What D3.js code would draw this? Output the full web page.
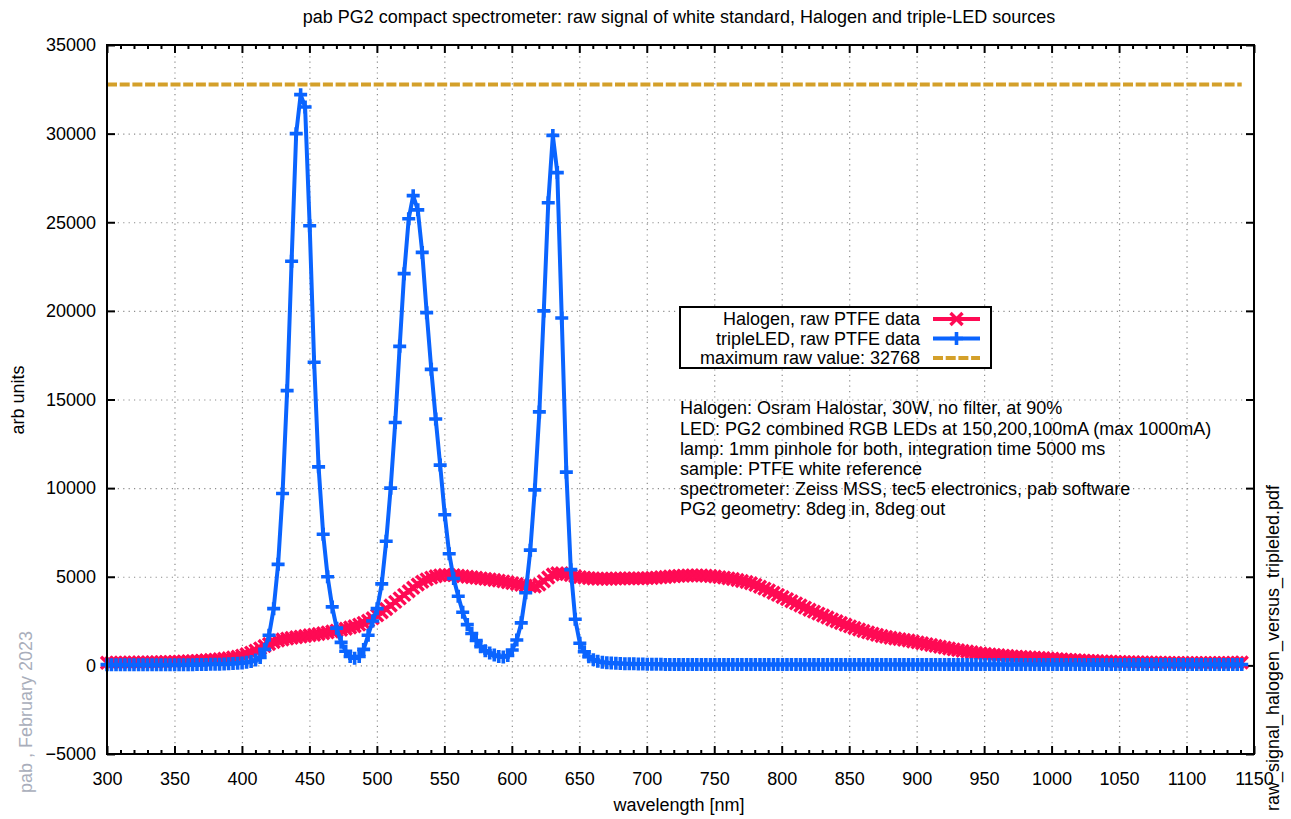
<!DOCTYPE html>
<html>
<head>
<meta charset="utf-8">
<script src="https://cdn.jsdelivr.net/npm/d3@7"></script>
<style>
  html, body { margin: 0; padding: 0; background: #fff; }
  svg { display: block; }
  text { font-family: "Liberation Sans", Arial, sans-serif; }
</style>
</head>
<body>
<svg id="chart" width="1291" height="819"></svg>
<script>
// Detector pixel wavelengths [nm]
const wavelength = [
  300.0,303.3,306.7,310.0,313.3,316.7,320.0,323.4,326.7,330.0,
  333.4,336.7,340.0,343.4,346.7,350.1,353.4,356.7,360.1,363.4,
  366.7,370.1,373.4,376.8,380.1,383.4,386.8,390.1,393.4,396.8,
  400.1,403.4,406.8,410.1,413.5,416.8,420.1,423.5,426.8,430.1,
  433.5,436.8,440.2,443.5,446.8,450.2,453.5,456.8,460.2,463.5,
  466.9,470.2,473.5,476.9,480.2,483.5,486.9,490.2,493.5,496.9,
  500.2,503.6,506.9,510.2,513.6,516.9,520.2,523.6,526.9,530.3,
  533.6,536.9,540.3,543.6,546.9,550.3,553.6,556.9,560.3,563.6,
  567.0,570.3,573.6,577.0,580.3,583.6,587.0,590.3,593.7,597.0,
  600.3,603.7,607.0,610.3,613.7,617.0,620.4,623.7,627.0,630.4,
  633.7,637.0,640.4,643.7,647.0,650.4,653.7,657.1,660.4,663.7,
  667.1,670.4,673.7,677.1,680.4,683.8,687.1,690.4,693.8,697.1,
  700.4,703.8,707.1,710.5,713.8,717.1,720.5,723.8,727.1,730.5,
  733.8,737.1,740.5,743.8,747.2,750.5,753.8,757.2,760.5,763.8,
  767.2,770.5,773.9,777.2,780.5,783.9,787.2,790.5,793.9,797.2,
  800.6,803.9,807.2,810.6,813.9,817.2,820.6,823.9,827.2,830.6,
  833.9,837.3,840.6,843.9,847.3,850.6,853.9,857.3,860.6,864.0,
  867.3,870.6,874.0,877.3,880.6,884.0,887.3,890.6,894.0,897.3,
  900.7,904.0,907.3,910.7,914.0,917.3,920.7,924.0,927.4,930.7,
  934.0,937.4,940.7,944.0,947.4,950.7,954.1,957.4,960.7,964.1,
  967.4,970.7,974.1,977.4,980.7,984.1,987.4,990.8,994.1,997.4,
  1000.8,1004.1,1007.4,1010.8,1014.1,1017.5,1020.8,1024.1,1027.5,1030.8,
  1034.1,1037.5,1040.8,1044.2,1047.5,1050.8,1054.2,1057.5,1060.8,1064.2,
  1067.5,1070.8,1074.2,1077.5,1080.9,1084.2,1087.5,1090.9,1094.2,1097.5,
  1100.9,1104.2,1107.6,1110.9,1114.2,1117.6,1120.9,1124.2,1127.6,1130.9,
  1134.3,1137.6,1140.9
];

// Halogen lamp, raw counts on PTFE
const halogen = [
  150,150,150,155,155,160,160,165,165,170,
  175,180,185,190,195,200,210,220,230,240,
  255,270,285,300,320,345,370,400,440,490,
  550,630,720,830,960,1090,1210,1320,1400,1460,
  1510,1550,1590,1620,1660,1700,1730,1770,1810,1860,
  1910,1960,2010,2070,2140,2210,2300,2400,2520,2660,
  2820,3000,3180,3380,3580,3780,3980,4180,4380,4560,
  4720,4850,4950,5030,5080,5100,5100,5090,5060,5030,
  5000,4970,4940,4910,4880,4850,4820,4780,4740,4690,
  4640,4590,4540,4500,4460,4450,4560,4750,4960,5130,
  5200,5200,5150,5090,5030,4980,4950,4920,4900,4890,
  4890,4890,4890,4900,4900,4910,4910,4910,4910,4910,
  4920,4930,4950,4970,4990,5010,5030,5050,5060,5070,
  5080,5080,5070,5060,5040,5010,4980,4950,4910,4870,
  4820,4760,4700,4630,4540,4440,4330,4220,4100,3980,
  3860,3740,3620,3500,3380,3260,3140,3030,2920,2810,
  2700,2590,2490,2390,2290,2200,2110,2020,1940,1860,
  1790,1720,1660,1610,1560,1520,1480,1440,1400,1350,
  1300,1250,1200,1150,1100,1050,1000,950,900,860,
  820,780,740,700,670,640,610,590,570,550,
  530,510,490,475,460,445,430,415,400,385,
  370,355,340,325,310,295,280,268,256,245,
  234,224,215,206,198,190,184,178,172,167,
  162,158,154,150,147,144,141,139,137,135,
  134,133,132,132,132,133,134,136,138,141,
  145,150,160
];

// Triple LED (RGB), raw counts on PTFE
const tripleLED = [
  40,35,30,30,30,30,30,30,30,30,
  30,30,30,30,30,35,35,35,40,40,
  45,50,55,60,65,70,80,90,100,120,
  140,170,220,300,450,900,1700,3200,5700,9700,
  15500,22800,30000,32200,31500,24800,17100,11200,7400,5000,
  3300,2100,1300,800,500,400,500,900,1700,2500,
  3200,4600,7000,10000,13700,18000,22100,25200,26500,25700,
  23300,19900,16700,13900,11300,8500,6300,4900,3900,3000,
  2300,1800,1400,1050,820,700,580,500,470,560,
  870,1430,2400,4100,6500,9900,14300,20000,26100,29900,
  27800,19600,10900,5400,2600,1250,770,490,320,230,
  180,150,130,115,105,95,90,85,80,75,
  70,66,62,58,55,52,50,48,48,48,
  48,48,48,48,48,48,48,48,48,48,
  48,48,48,48,48,48,48,48,48,48,
  48,48,48,48,48,48,48,48,48,48,
  48,48,48,48,48,48,48,48,48,48,
  48,48,48,48,48,48,48,48,48,48,
  48,48,48,48,48,48,48,48,48,48,
  48,48,48,48,48,48,48,48,48,48,
  48,48,48,48,48,48,48,48,48,48,
  48,48,48,48,48,48,48,48,48,48,
  48,48,48,48,48,48,48,48,48,48,
  48,48,48,48,48,48,48,48,48,48,
  48,48,48,48,48,48,48,48,48,48,
  48,48,48
];

const maxRaw = 32768;

const xTicks = [300,350,400,450,500,550,600,650,700,750,800,850,900,950,1000,1050,1100,1150];
const xMinorTicks = d3.range(300, 1151, 10).filter(v => v % 50 !== 0);
const yTicks = [-5000,0,5000,10000,15000,20000,25000,30000,35000];

const legendLabels = ["Halogen, raw PTFE data", "tripleLED, raw PTFE data", "maximum raw value: 32768"];
const notes = [
  "Halogen: Osram Halostar, 30W, no filter, at 90%",
  "LED: PG2 combined RGB LEDs at 150,200,100mA (max 1000mA)",
  "lamp: 1mm pinhole for both, integration time 5000 ms",
  "sample: PTFE white reference",
  "spectrometer: Zeiss MSS, tec5 electronics, pab software",
  "PG2 geometry: 8deg in, 8deg out"
];

const COL_HAL = "#ff0a54";
const COL_LED = "#0a64ff";
const COL_MAX = "#d4a02a";
const FS = 18;

const svg = d3.select("#chart");
const L = 107, R = 1254, T = 45, B = 754;
const x = d3.scaleLinear().domain([300, 1150]).range([L, R]);
const y = d3.scaleLinear().domain([-5000, 35000]).range([B, T]);

// grid
const gridX = svg.append("g").attr("transform", `translate(0,${B})`)
  .call(d3.axisBottom(x).tickValues(xTicks.slice(1, -1)).tickSize(-(B - T)).tickFormat(""));
const gridY = svg.append("g").attr("transform", `translate(${L},0)`)
  .call(d3.axisLeft(y).tickValues(yTicks.slice(1, -1)).tickSize(-(R - L)).tickFormat(""));
[gridX, gridY].forEach(g => {
  g.select(".domain").remove();
  g.selectAll("line").attr("stroke", "#8c8c8c").attr("stroke-width", 1.2).attr("stroke-dasharray", "1.2,4.2");
});

// ticks
function styleAxis(g) {
  g.select(".domain").remove();
  g.selectAll("line").attr("stroke", "#000").attr("stroke-width", 2);
  g.selectAll("text").attr("fill", "#000").attr("font-size", FS).attr("font-family", "Liberation Sans, Arial, sans-serif");
}
svg.append("g").attr("transform", `translate(0,${B})`)
  .call(d3.axisBottom(x).tickValues(xTicks).tickSize(-8).tickPadding(18).tickFormat(d3.format("d")))
  .call(styleAxis);
svg.append("g").attr("transform", `translate(0,${B})`)
  .call(d3.axisBottom(x).tickValues(xMinorTicks).tickSize(-4).tickFormat(""))
  .call(styleAxis);
svg.append("g").attr("transform", `translate(0,${T})`)
  .call(d3.axisTop(x).tickValues(xTicks).tickSize(-8).tickFormat(""))
  .call(styleAxis);
svg.append("g").attr("transform", `translate(0,${T})`)
  .call(d3.axisTop(x).tickValues(xMinorTicks).tickSize(-4).tickFormat(""))
  .call(styleAxis);
svg.append("g").attr("transform", `translate(${L},0)`)
  .call(d3.axisLeft(y).tickValues(yTicks).tickSize(-8).tickPadding(11).tickFormat(d3.format("d")))
  .call(styleAxis);
svg.append("g").attr("transform", `translate(${R},0)`)
  .call(d3.axisRight(y).tickValues(yTicks).tickSize(-8).tickFormat(""))
  .call(styleAxis);

// series
const plotArea = svg.append("g");
const line = d3.line().x((d, i) => x(wavelength[i])).y(d => y(d));
const crossPath = s => `M${-s},${-s}L${s},${s}M${-s},${s}L${s},${-s}`;
const plusPath = s => `M${-s},0H${s}M0,${-s}V${s}`;

function drawSeries(values, color, markerPath, mw) {
  const g = plotArea.append("g");
  g.append("path").datum(values).attr("d", line)
    .attr("fill", "none").attr("stroke", color).attr("stroke-width", 4).attr("stroke-linejoin", "round");
  g.selectAll("path.m").data(values).join("path").attr("class", "m")
    .attr("transform", (d, i) => `translate(${x(wavelength[i])},${y(d)})`)
    .attr("d", markerPath).attr("fill", "none").attr("stroke", color).attr("stroke-width", mw);
}
drawSeries(halogen, COL_HAL, crossPath(6), 3.4);
drawSeries(tripleLED, COL_LED, plusPath(6.5), 3.6);

plotArea.append("line")
  .attr("x1", x(wavelength[0])).attr("x2", x(wavelength[wavelength.length - 1]))
  .attr("y1", y(maxRaw)).attr("y2", y(maxRaw))
  .attr("stroke", COL_MAX).attr("stroke-width", 4).attr("stroke-dasharray", "10,2.7");

// frame
svg.append("rect").attr("x", L).attr("y", T).attr("width", R - L).attr("height", B - T)
  .attr("fill", "none").attr("stroke", "#000").attr("stroke-width", 2);

// legend
const lg = svg.append("g");
lg.append("rect").attr("x", 680).attr("y", 307).attr("width", 311).attr("height", 61)
  .attr("fill", "#fff").attr("stroke", "#000").attr("stroke-width", 2);
const rowsY = [319, 338.5, 358];
legendLabels.forEach((t, i) => {
  lg.append("text").attr("x", 920).attr("y", rowsY[i]).attr("dy", "0.35em")
    .attr("text-anchor", "end").attr("font-size", FS).text(t);
});
lg.append("line").attr("x1", 933).attr("x2", 980).attr("y1", rowsY[0]).attr("y2", rowsY[0])
  .attr("stroke", COL_HAL).attr("stroke-width", 4);
lg.append("path").attr("transform", `translate(956.5,${rowsY[0]})`).attr("d", crossPath(6))
  .attr("stroke", COL_HAL).attr("stroke-width", 3.4).attr("fill", "none");
lg.append("line").attr("x1", 933).attr("x2", 980).attr("y1", rowsY[1]).attr("y2", rowsY[1])
  .attr("stroke", COL_LED).attr("stroke-width", 4);
lg.append("path").attr("transform", `translate(956.5,${rowsY[1]})`).attr("d", plusPath(6.5))
  .attr("stroke", COL_LED).attr("stroke-width", 3.6).attr("fill", "none");
lg.append("line").attr("x1", 933).attr("x2", 980).attr("y1", rowsY[2]).attr("y2", rowsY[2])
  .attr("stroke", COL_MAX).attr("stroke-width", 4).attr("stroke-dasharray", "10,2.7");

// notes
svg.append("g").selectAll("text").data(notes).join("text")
  .attr("x", 680).attr("y", (d, i) => 408 + i * 20.2).attr("dy", "0.35em")
  .attr("font-size", FS).text(d => d);

// titles
svg.append("text").attr("x", 679).attr("y", 17).attr("dy", "0.35em").attr("text-anchor", "middle")
  .attr("font-size", FS).text("pab PG2 compact spectrometer: raw signal of white standard, Halogen and triple-LED sources");
svg.append("text").attr("x", 679).attr("y", 805).attr("dy", "0.35em").attr("text-anchor", "middle")
  .attr("font-size", FS).text("wavelength [nm]");
svg.append("text").attr("transform", "translate(18,400) rotate(-90)").attr("dy", "0.35em")
  .attr("text-anchor", "middle").attr("font-size", FS).text("arb units");
svg.append("text").attr("transform", "translate(26,712) rotate(-90)").attr("dy", "0.35em")
  .attr("text-anchor", "middle").attr("font-size", FS).attr("fill", "#a9aebb").text("pab , February 2023");
svg.append("text").attr("transform", "translate(1273,648) rotate(-90)").attr("dy", "0.35em")
  .attr("text-anchor", "middle").attr("font-size", FS).text("raw_signal_halogen_versus_tripleled.pdf");
</script>
</body>
</html>
